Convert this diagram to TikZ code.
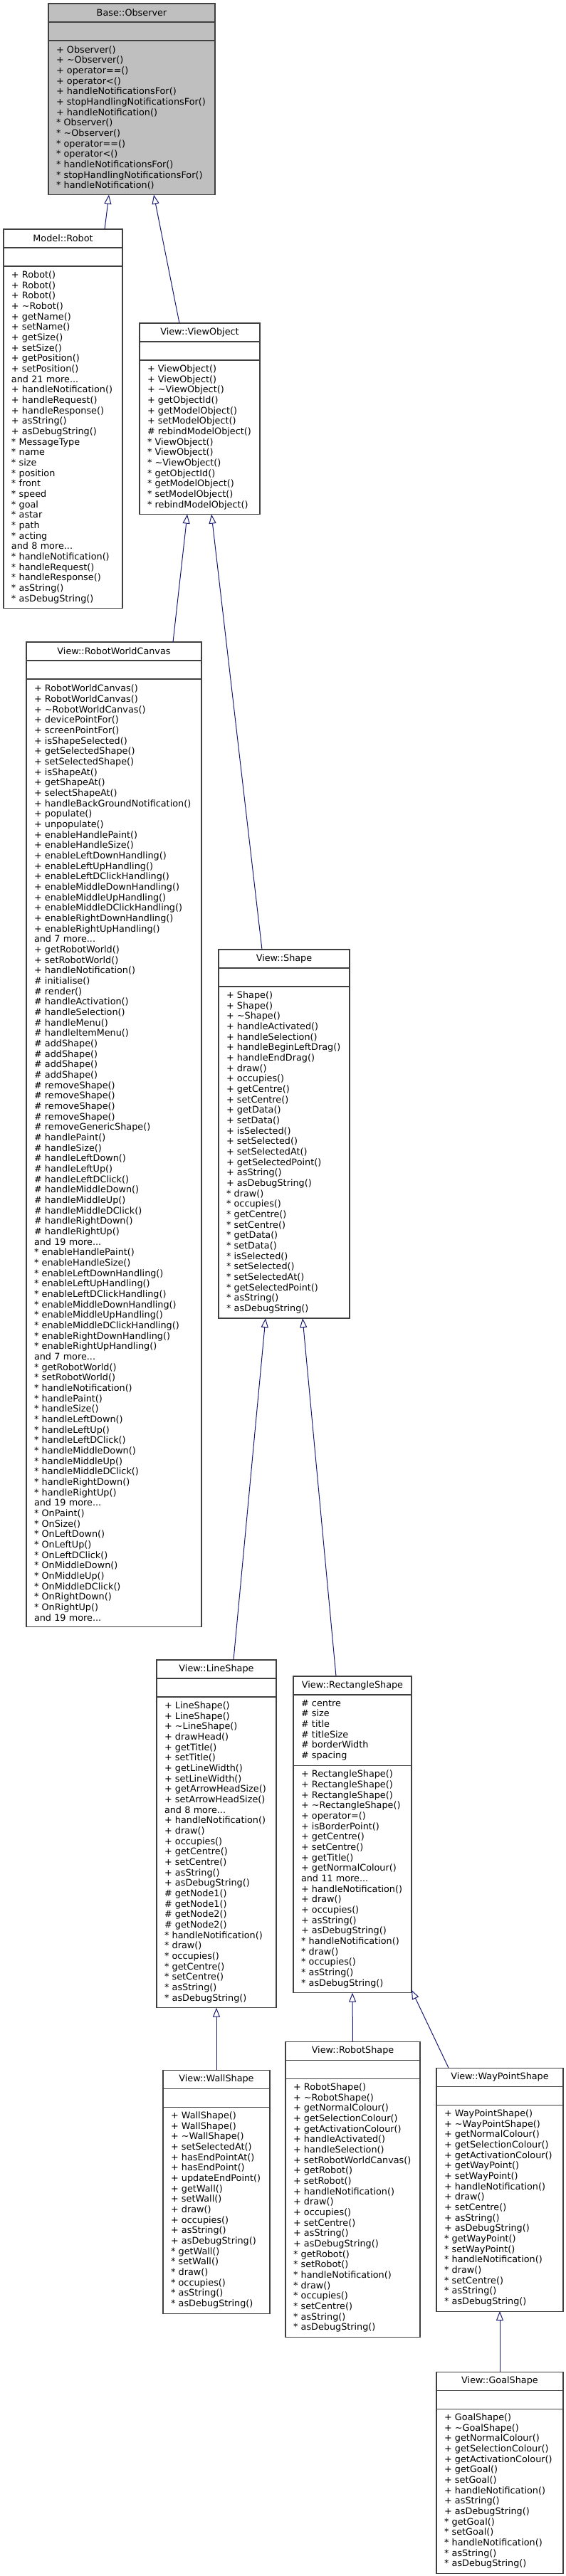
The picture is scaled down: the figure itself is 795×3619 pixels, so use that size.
\documentclass[tikz,border=0pt]{standalone}
\usepackage{fontspec}
\usepackage{xcolor}
\usetikzlibrary{positioning, arrows.meta}
\newfontfamily\doxfont{DejaVu Sans}
\newcommand{\tld}{\textasciitilde}

\definecolor{edgeblue}{HTML}{191970}
\definecolor{boxline}{HTML}{404040}
\definecolor{basegray}{HTML}{BFBFBF}

\begin{document}
\begin{tikzpicture}[
  x=0.75pt, y=-0.75pt,
  every node/.style={font=\doxfont\fontsize{9.6}{11}\selectfont},
  cls/.style={draw=boxline, line width=0.8pt, fill=white, text width=#1, inner xsep=8.25pt, inner ysep=0pt, outer sep=0pt},
  hdr/.style={cls=#1, align=center, minimum height=19.5pt, anchor=north west},
  sect/.style={cls=#1, minimum height=19.5pt},
  ops/.style 2 args={cls=#1, align=left, minimum height=#2},
  inh/.style={draw=edgeblue, line width=0.75pt, -{Triangle[open, length=9.75pt, width=7.5pt]}},
]
\useasboundingbox (0,0) rectangle (795,3619);

% Base class
\node[hdr=159pt, fill=basegray] (observer) at (68,5) {Base::Observer};
\node[sect=159pt, fill=basegray, below=0pt of observer] (observer-attr) {};
\node[ops={159pt}{162.5pt}, fill=basegray, below=0pt of observer-attr] (observer-ops) {%
+~Observer()\\+~\tld Observer()\\+~operator==()\\+~operator<()\\+~handleNotificationsFor()\\
+~stopHandlingNotificationsFor()\\+~handleNotification()\\{*}~Observer()\\{*}~\tld Observer()\\
{*}~operator==()\\{*}~operator<()\\{*}~handleNotificationsFor()\\{*}~stopHandlingNotificationsFor()\\
{*}~handleNotification()};

% Model::Robot
\node[hdr=108.75pt] (robot) at (5,322) {Model::Robot};
\node[sect=108.75pt, below=0pt of robot] (robot-attr) {};
\node[ops={108.75pt}{360.5pt}, below=0pt of robot-attr] (robot-ops) {%
+~Robot()\\+~Robot()\\+~Robot()\\+~\tld Robot()\\+~getName()\\+~setName()\\+~getSize()\\+~setSize()\\
+~getPosition()\\+~setPosition()\\and~21~more...\\+~handleNotification()\\+~handleRequest()\\
+~handleResponse()\\+~asString()\\+~asDebugString()\\{*}~MessageType\\{*}~name\\{*}~size\\{*}~position\\
{*}~front\\{*}~speed\\{*}~goal\\{*}~astar\\{*}~path\\{*}~acting\\and~8~more...\\{*}~handleNotification()\\
{*}~handleRequest()\\{*}~handleResponse()\\{*}~asString()\\{*}~asDebugString()};

% View::ViewObject
\node[hdr=110.25pt] (viewobject) at (196,454) {View::ViewObject};
\node[sect=110.25pt, below=0pt of viewobject] (viewobject-attr) {};
\node[ops={110.25pt}{162.5pt}, below=0pt of viewobject-attr] (viewobject-ops) {%
+~ViewObject()\\+~ViewObject()\\+~\tld ViewObject()\\+~getObjectId()\\+~getModelObject()\\
+~setModelObject()\\\#~rebindModelObject()\\{*}~ViewObject()\\{*}~ViewObject()\\{*}~\tld ViewObject()\\
{*}~getObjectId()\\{*}~getModelObject()\\{*}~setModelObject()\\{*}~rebindModelObject()};

% View::RobotWorldCanvas
\node[hdr=168pt] (canvas) at (37,902) {View::RobotWorldCanvas};
\node[sect=168pt, below=0pt of canvas] (canvas-attr) {};
\node[ops={168pt}{998.5pt}, below=0pt of canvas-attr] (canvas-ops) {%
+~RobotWorldCanvas()\\+~RobotWorldCanvas()\\+~\tld RobotWorldCanvas()\\+~devicePointFor()\\
+~screenPointFor()\\+~isShapeSelected()\\+~getSelectedShape()\\+~setSelectedShape()\\
+~isShapeAt()\\+~getShapeAt()\\+~selectShapeAt()\\+~handleBackGroundNotification()\\
+~populate()\\+~unpopulate()\\+~enableHandlePaint()\\+~enableHandleSize()\\
+~enableLeftDownHandling()\\+~enableLeftUpHandling()\\+~enableLeftDClickHandling()\\
+~enableMiddleDownHandling()\\+~enableMiddleUpHandling()\\+~enableMiddleDClickHandling()\\
+~enableRightDownHandling()\\+~enableRightUpHandling()\\and~7~more...\\+~getRobotWorld()\\
+~setRobotWorld()\\+~handleNotification()\\\#~initialise()\\\#~render()\\\#~handleActivation()\\
\#~handleSelection()\\\#~handleMenu()\\\#~handleItemMenu()\\\#~addShape()\\\#~addShape()\\
\#~addShape()\\\#~addShape()\\\#~removeShape()\\\#~removeShape()\\\#~removeShape()\\
\#~removeShape()\\\#~removeGenericShape()\\\#~handlePaint()\\\#~handleSize()\\
\#~handleLeftDown()\\\#~handleLeftUp()\\\#~handleLeftDClick()\\\#~handleMiddleDown()\\
\#~handleMiddleUp()\\\#~handleMiddleDClick()\\\#~handleRightDown()\\\#~handleRightUp()\\
and~19~more...\\{*}~enableHandlePaint()\\{*}~enableHandleSize()\\{*}~enableLeftDownHandling()\\
{*}~enableLeftUpHandling()\\{*}~enableLeftDClickHandling()\\{*}~enableMiddleDownHandling()\\
{*}~enableMiddleUpHandling()\\{*}~enableMiddleDClickHandling()\\{*}~enableRightDownHandling()\\
{*}~enableRightUpHandling()\\and~7~more...\\{*}~getRobotWorld()\\{*}~setRobotWorld()\\
{*}~handleNotification()\\{*}~handlePaint()\\{*}~handleSize()\\{*}~handleLeftDown()\\{*}~handleLeftUp()\\
{*}~handleLeftDClick()\\{*}~handleMiddleDown()\\{*}~handleMiddleUp()\\{*}~handleMiddleDClick()\\
{*}~handleRightDown()\\{*}~handleRightUp()\\and~19~more...\\{*}~OnPaint()\\{*}~OnSize()\\
{*}~OnLeftDown()\\{*}~OnLeftUp()\\{*}~OnLeftDClick()\\{*}~OnMiddleDown()\\{*}~OnMiddleUp()\\
{*}~OnMiddleDClick()\\{*}~OnRightDown()\\{*}~OnRightUp()\\and~19~more...};

% View::Shape
\node[hdr=121.5pt] (shape) at (307,1334) {View::Shape};
\node[sect=121.5pt, below=0pt of shape] (shape-attr) {};
\node[ops={121.5pt}{349.5pt}, below=0pt of shape-attr] (shape-ops) {%
+~Shape()\\+~Shape()\\+~\tld Shape()\\+~handleActivated()\\+~handleSelection()\\
+~handleBeginLeftDrag()\\+~handleEndDrag()\\+~draw()\\+~occupies()\\+~getCentre()\\+~setCentre()\\
+~getData()\\+~setData()\\+~isSelected()\\+~setSelected()\\+~setSelectedAt()\\+~getSelectedPoint()\\
+~asString()\\+~asDebugString()\\{*}~draw()\\{*}~occupies()\\{*}~getCentre()\\{*}~setCentre()\\{*}~getData()\\
{*}~setData()\\{*}~isSelected()\\{*}~setSelected()\\{*}~setSelectedAt()\\{*}~getSelectedPoint()\\
{*}~asString()\\{*}~asDebugString()};

% View::LineShape
\node[hdr=109.5pt] (lineshape) at (220,2332) {View::LineShape};
\node[sect=109.5pt, below=0pt of lineshape] (lineshape-attr) {};
\node[ops={109.5pt}{327.5pt}, below=0pt of lineshape-attr] (lineshape-ops) {%
+~LineShape()\\+~LineShape()\\+~\tld LineShape()\\+~drawHead()\\+~getTitle()\\+~setTitle()\\
+~getLineWidth()\\+~setLineWidth()\\+~getArrowHeadSize()\\+~setArrowHeadSize()\\and~8~more...\\
+~handleNotification()\\+~draw()\\+~occupies()\\+~getCentre()\\+~setCentre()\\+~asString()\\
+~asDebugString()\\\#~getNode1()\\\#~getNode1()\\\#~getNode2()\\\#~getNode2()\\
{*}~handleNotification()\\{*}~draw()\\{*}~occupies()\\{*}~getCentre()\\{*}~setCentre()\\{*}~asString()\\
{*}~asDebugString()};

% View::RectangleShape
\node[hdr=108pt] (rectshape) at (412,2355) {View::RectangleShape};
\node[ops={108pt}{74.5pt}, below=0pt of rectshape] (rectshape-attr) {%
\#~centre\\\#~size\\\#~title\\\#~titleSize\\\#~borderWidth\\\#~spacing};
\node[ops={108pt}{239.5pt}, below=0pt of rectshape-attr] (rectshape-ops) {%
+~RectangleShape()\\+~RectangleShape()\\+~RectangleShape()\\+~\tld RectangleShape()\\
+~operator=()\\+~isBorderPoint()\\+~getCentre()\\+~setCentre()\\+~getTitle()\\
+~getNormalColour()\\and~11~more...\\+~handleNotification()\\+~draw()\\+~occupies()\\
+~asString()\\+~asDebugString()\\{*}~handleNotification()\\{*}~draw()\\{*}~occupies()\\{*}~asString()\\
{*}~asDebugString()};

% View::WallShape
\node[hdr=96pt] (wallshape) at (229,2908) {View::WallShape};
\node[sect=96pt, below=0pt of wallshape] (wallshape-attr) {};
\node[ops={96pt}{217.5pt}, below=0pt of wallshape-attr] (wallshape-ops) {%
+~WallShape()\\+~WallShape()\\+~\tld WallShape()\\+~setSelectedAt()\\+~hasEndPointAt()\\
+~hasEndPoint()\\+~updateEndPoint()\\+~getWall()\\+~setWall()\\+~draw()\\+~occupies()\\
+~asString()\\+~asDebugString()\\{*}~getWall()\\{*}~setWall()\\{*}~draw()\\{*}~occupies()\\{*}~asString()\\
{*}~asDebugString()};

% View::RobotShape
\node[hdr=125.25pt] (robotshape) at (401,2868) {View::RobotShape};
\node[sect=125.25pt, below=0pt of robotshape] (robotshape-attr) {};
\node[ops={125.25pt}{272.5pt}, below=0pt of robotshape-attr] (robotshape-ops) {%
+~RobotShape()\\+~\tld RobotShape()\\+~getNormalColour()\\+~getSelectionColour()\\
+~getActivationColour()\\+~handleActivated()\\+~handleSelection()\\+~setRobotWorldCanvas()\\
+~getRobot()\\+~setRobot()\\+~handleNotification()\\+~draw()\\+~occupies()\\+~setCentre()\\
+~asString()\\+~asDebugString()\\{*}~getRobot()\\{*}~setRobot()\\{*}~handleNotification()\\{*}~draw()\\
{*}~occupies()\\{*}~setCentre()\\{*}~asString()\\{*}~asDebugString()};

% View::WayPointShape
\node[hdr=117pt] (waypointshape) at (613,2905) {View::WayPointShape};
\node[sect=117pt, below=0pt of waypointshape] (waypointshape-attr) {};
\node[ops={117pt}{217.5pt}, below=0pt of waypointshape-attr] (waypointshape-ops) {%
+~WayPointShape()\\+~\tld WayPointShape()\\+~getNormalColour()\\+~getSelectionColour()\\
+~getActivationColour()\\+~getWayPoint()\\+~setWayPoint()\\+~handleNotification()\\+~draw()\\
+~setCentre()\\+~asString()\\+~asDebugString()\\{*}~getWayPoint()\\{*}~setWayPoint()\\
{*}~handleNotification()\\{*}~draw()\\{*}~setCentre()\\{*}~asString()\\{*}~asDebugString()};

% View::GoalShape
\node[hdr=117pt] (goalshape) at (613,3332) {View::GoalShape};
\node[sect=117pt, below=0pt of goalshape] (goalshape-attr) {};
\node[ops={117pt}{173.5pt}, below=0pt of goalshape-attr] (goalshape-ops) {%
+~GoalShape()\\+~\tld GoalShape()\\+~getNormalColour()\\+~getSelectionColour()\\
+~getActivationColour()\\+~getGoal()\\+~setGoal()\\+~handleNotification()\\+~asString()\\
+~asDebugString()\\{*}~getGoal()\\{*}~setGoal()\\{*}~handleNotification()\\{*}~asString()\\
{*}~asDebugString()};

% Inheritance edges
\draw[inh] ([xshift=43.9pt]robot.north) -- ([xshift=-24pt]observer-ops.south);
\draw[inh] ([xshift=-21.4pt]viewobject.north) -- ([xshift=23.25pt]observer-ops.south);
\draw[inh] ([xshift=62.25pt]canvas.north) -- ([xshift=-13.1pt]viewobject-ops.south);
\draw[inh] ([xshift=-23.25pt]shape.north) -- ([xshift=12.4pt]viewobject-ops.south);
\draw[inh] ([xshift=18pt]lineshape.north) -- ([xshift=-19.5pt]shape-ops.south);
\draw[inh] ([xshift=-17.25pt]rectshape.north) -- ([xshift=19.5pt]shape-ops.south);
\draw[inh] (wallshape.north) -- (lineshape-ops.south);
\draw[inh] (robotshape.north) -- (rectshape-ops.south);
\draw[inh] ([xshift=-54pt]waypointshape.north) -- ([yshift=3pt]rectshape-ops.south east);
\draw[inh] (goalshape.north) -- (waypointshape-ops.south);
\end{tikzpicture}
\end{document}
